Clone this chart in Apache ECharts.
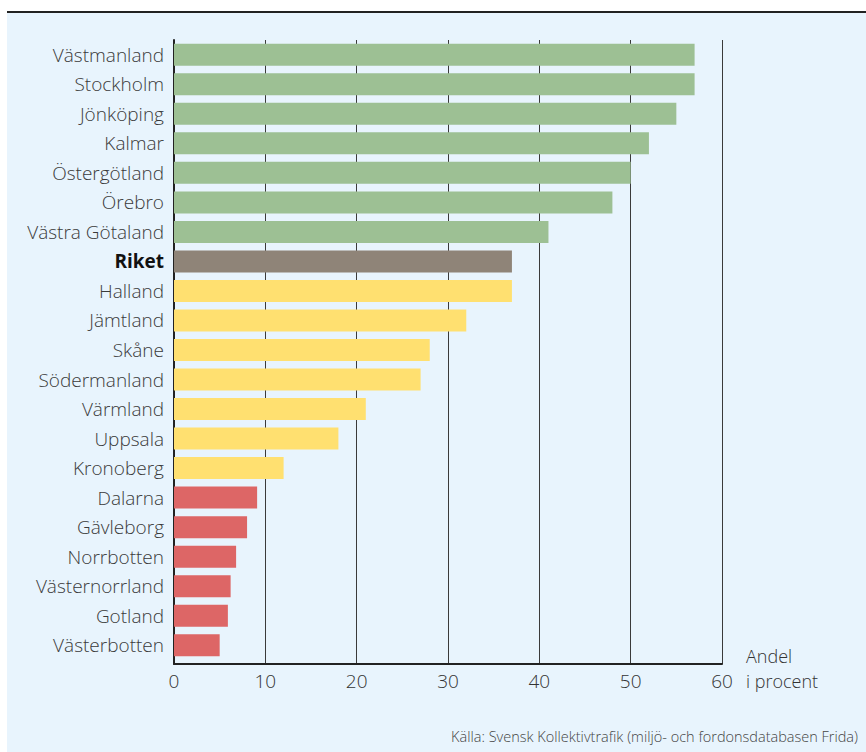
<!DOCTYPE html>
<html>
<head>
<meta charset="utf-8">
<script src="https://cdn.jsdelivr.net/npm/echarts@6/dist/echarts.min.js"></script>
<style>
html,body{margin:0;padding:0;background:#fff;}
#c{width:866px;height:752px;}
</style>
</head>
<body>
<div id="c"></div>
<script>
var categories = ["Västmanland","Stockholm","Jönköping","Kalmar","Östergötland","Örebro","Västra Götaland","Riket","Halland","Jämtland","Skåne","Södermanland","Värmland","Uppsala","Kronoberg","Dalarna","Gävleborg","Norrbotten","Västernorrland","Gotland","Västerbotten"];
var values = [57,57,55,52,50,48,41,37,37,32,28,27,21,18,12,9.1,8,6.8,6.2,5.9,5];
var groups = ["high","high","high","high","high","high","high","total","mid","mid","mid","mid","mid","mid","mid","low","low","low","low","low","low"];
var xTicks = [0,10,20,30,40,50,60];
var axisTitleLines = ["Andel", "i procent"];
var sourceText = "Källa: Svensk Kollektivtrafik (miljö- och fordonsdatabasen Frida)";

var groupColors = {high:"#9dc094", total:"#8f8478", mid:"#ffe070", low:"#dd6666"};
var FONT = "'Open Sans', 'Noto Sans', sans-serif";

var chart = echarts.init(document.getElementById('c'), null, {renderer:'svg'});
chart.setOption({
  backgroundColor: '#ffffff',
  animation: false,
  graphic: [
    {type:'rect', left:7, top:13, shape:{width:859, height:739}, style:{fill:'#e8f4fd'}, z:-10},
    {type:'rect', left:7, top:11, shape:{width:859, height:2}, style:{fill:'#222'}, z:-9},
    {type:'text', left:746, top:647, style:{text:axisTitleLines[0], font:"300 18px " + FONT, fill:'#333'}},
    {type:'text', left:746, top:672, style:{text:axisTitleLines[1], font:"300 18px " + FONT, fill:'#333'}},
    {type:'text', right:8, top:729, style:{text:sourceText, font:"300 14.5px " + FONT, fill:'#444'}}
  ],
  grid: [
    {left:174, right:144, top:40, bottom:92, containLabel:false},
    {left:174, right:144, top:40, bottom:88, containLabel:false}
  ],
  xAxis: [
    {type:'value', gridIndex:0, min:xTicks[0], max:xTicks[xTicks.length-1], interval:10, show:false},
    {
      type:'value', gridIndex:1, min:xTicks[0], max:xTicks[xTicks.length-1], interval:10,
      axisLine:{show:true, lineStyle:{color:'#222', width:2}},
      axisTick:{show:false},
      splitLine:{show:true, lineStyle:{color:'#3a3a3a', width:1}},
      axisLabel:{color:'#333', fontSize:19, fontWeight:300, fontFamily:FONT, margin:7}
    }
  ],
  yAxis: [
    {
      type:'category', gridIndex:0, inverse:true, data:categories,
      axisLine:{show:false},
      axisTick:{show:false},
      axisLabel:{
        margin:10, fontSize:19, fontWeight:300, fontFamily:FONT, color:'#3a3a3a',
        formatter:function(v){ return v === 'Riket' ? '{b|' + v + '}' : v; },
        rich:{b:{fontWeight:'bold', color:'#111', fontSize:19, fontFamily:FONT}}
      }
    },
    {
      type:'value', gridIndex:1, min:0, max:1,
      axisLine:{show:true, lineStyle:{color:'#222', width:2}},
      axisTick:{show:false}, axisLabel:{show:false}, splitLine:{show:false}
    }
  ],
  series: [{
    type:'bar', xAxisIndex:0, yAxisIndex:0, barWidth:22, z:3,
    data: values.map(function(v,i){ return {value:v, itemStyle:{color:groupColors[groups[i]]}}; })
  }]
});
</script>
</body>
</html>
